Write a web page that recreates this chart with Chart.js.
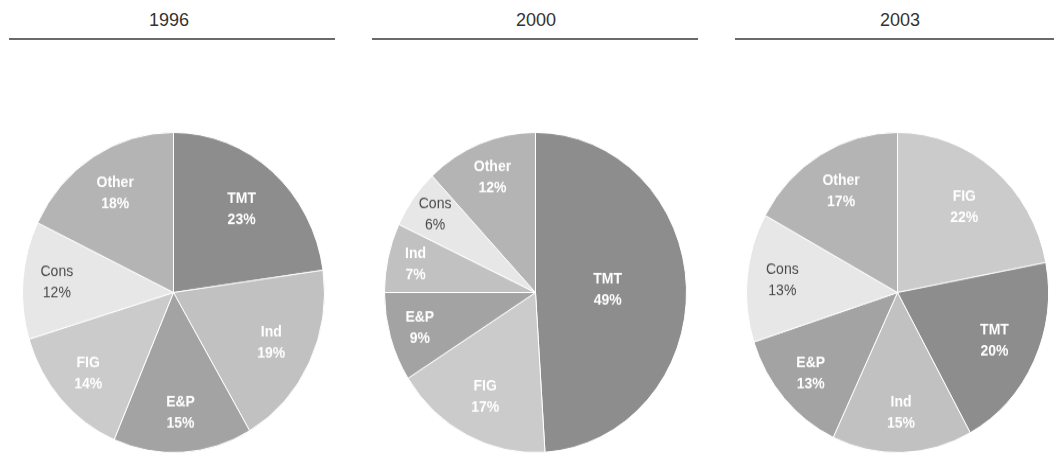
<!DOCTYPE html>
<html>
<head>
<meta charset="utf-8">
<script src="https://cdn.jsdelivr.net/npm/chart.js@4/dist/chart.umd.min.js"></script>
<style>
  html, body { margin: 0; padding: 0; background: #ffffff; }
  #stage { position: relative; width: 1054px; height: 456px; overflow: hidden; font-family: "Liberation Sans", Arial, sans-serif; }
  .year { position: absolute; top: 8px; width: 200px; text-align: center; font-size: 18px; color: #333333; line-height: 24px; }
  .rule { position: absolute; top: 38px; height: 2px; background: #6a6a6a; }
  .pie { position: absolute; top: 141px; width: 303px; height: 303px; transform: scaleY(1.06); transform-origin: 50% 50%; }
</style>
</head>
<body>
<div id="stage">
  <div class="year" style="left:69px">1996</div>
  <div class="year" style="left:436px">2000</div>
  <div class="year" style="left:800px">2003</div>
  <div class="rule" style="left:9px; width:326px"></div>
  <div class="rule" style="left:372px; width:326px"></div>
  <div class="rule" style="left:735px; width:319px"></div>
  <div class="pie" style="left:22px"><canvas id="pie1996" width="303" height="303"></canvas></div>
  <div class="pie" style="left:384px"><canvas id="pie2000" width="303" height="303"></canvas></div>
  <div class="pie" style="left:746px"><canvas id="pie2003" width="303" height="303"></canvas></div>
</div>
<script>
// Deal volume split by sector, in percent, clockwise from 12 o'clock
const categories1996 = ['TMT', 'Ind', 'E&P', 'FIG', 'Cons', 'Other'];
const values1996 = [23, 19, 15, 14, 12, 18];

const categories2000 = ['TMT', 'FIG', 'E&P', 'Ind', 'Cons', 'Other'];
const values2000 = [49, 17, 9, 7, 6, 12];

const categories2003 = ['FIG', 'TMT', 'Ind', 'E&P', 'Cons', 'Other'];
const values2003 = [22, 20, 15, 13, 13, 17];

// Sector shading and label colour
const sectorFill = { 'TMT': '#8d8d8d', 'FIG': '#cbcbcb', 'E&P': '#a3a3a3', 'Ind': '#c1c1c1', 'Cons': '#e7e7e7', 'Other': '#b4b4b4' };
const sectorText = { 'TMT': '#ffffff', 'FIG': '#ffffff', 'E&P': '#ffffff', 'Ind': '#ffffff', 'Cons': '#4a4a4a', 'Other': '#ffffff' };

// Writes "name" and "value%" inside each slice; small slices sit further out
const sliceLabels = {
  id: 'sliceLabels',
  afterDatasetsDraw(chart) {
    const ctx = chart.ctx;
    const ds = chart.data.datasets[0];
    const meta = chart.getDatasetMeta(0);
    const total = ds.data.reduce((a, b) => a + b, 0);
    ctx.save();
    ctx.textAlign = 'center';
    ctx.textBaseline = 'middle';
    meta.data.forEach((arc, i) => {
      const name = chart.data.labels[i];
      const share = ds.data[i] / total;
      const mid = (arc.startAngle + arc.endAngle) / 2;
      const f = Math.max(0.45, 0.87 - 0.8 * share);
      const x = arc.x + Math.cos(mid) * arc.outerRadius * f;
      const y = arc.y + Math.sin(mid) * arc.outerRadius * f;
      const dark = sectorText[name] !== '#ffffff';
      ctx.fillStyle = sectorText[name];
      ctx.font = (dark ? 'normal' : 'bold') + ' 14px "Liberation Sans", Arial, sans-serif';
      ctx.fillText(name, x, y - 10);
      ctx.fillText(ds.data[i] + '%', x, y + 10);
    });
    ctx.restore();
  }
};

function drawPie(id, cats, vals) {
  new Chart(document.getElementById(id), {
    type: 'pie',
    data: {
      labels: cats,
      datasets: [{
        data: vals,
        backgroundColor: cats.map(c => sectorFill[c]),
        borderColor: '#ffffff',
        borderWidth: 1
      }]
    },
    options: {
      responsive: false,
      animation: false,
      devicePixelRatio: 1,
      layout: { padding: 0 },
      plugins: { legend: { display: false }, tooltip: { enabled: false }, title: { display: false } }
    },
    plugins: [sliceLabels]
  });
}

drawPie('pie1996', categories1996, values1996);
drawPie('pie2000', categories2000, values2000);
drawPie('pie2003', categories2003, values2003);
</script>
</body>
</html>
